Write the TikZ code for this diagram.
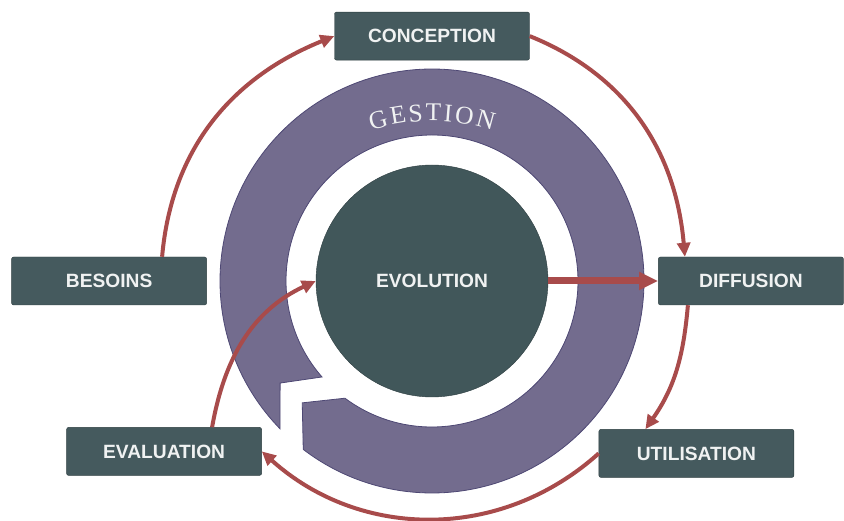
\documentclass[tikz,border=0pt]{standalone}
\usepackage{fontspec}
\setmainfont{Liberation Sans}
\newfontfamily\gestfont{Liberation Serif}
\usetikzlibrary{arrows.meta,positioning}

\definecolor{boxfill}{HTML}{455A5E}
\definecolor{circfill}{HTML}{41575A}
\definecolor{boxline}{HTML}{2E3E41}
\definecolor{boxtext}{HTML}{F0F2F2}
\definecolor{ringfill}{HTML}{736C8E}
\definecolor{ringline}{HTML}{4E4874}
\definecolor{arrred}{HTML}{A84B4B}

\begin{document}
\begin{tikzpicture}[
  x=1pt, y=1pt,
  font=\fontsize{19.2}{21}\selectfont\bfseries,
  box/.style={draw=boxline, fill=boxfill, rounded corners=2pt, text=boxtext, minimum width=195pt, minimum height=48pt, inner sep=0pt},
  arr/.style={-{Triangle[length=14pt, width=13pt]}, line width=4pt, draw=arrred},
  ring/.style={fill=ringfill, draw=ringline, line width=0.8pt},
  gestletter/.style={font=\gestfont\fontsize{25.5}{26}\selectfont, text=boxtext, inner sep=0pt, anchor=base}
]
\useasboundingbox (0,0) rectangle (844,520);
\node[circle, fill=circfill, draw=boxline, minimum size=232pt, text=boxtext] (evo) at (432,239) {EVOLUTION};
% ring with notched tail and pointed head
\path[ring] ([shift={(224.2:212)}]evo.center) arc[start angle=224.2, end angle=-127.4, radius=212]
  -- ([shift={(223.2:178)}]evo.center) -- ([shift={(-126.6:146)}]evo.center)
  arc[start angle=-126.6, end angle=221.1, radius=146]
  -- ([shift={(213.9:183)}]evo.center) -- cycle;
% GESTION, letter by letter on an arc
\coordinate (gestc) at ([yshift=-40pt]evo.center);
\foreach \ch/\a [count=\i] in {G/105.0, E/99.4, S/94.5, T/89.6, I/85.5, O/81.0, N/75.0}
  \node[gestletter, rotate=\a-90] (gest\i) at ([shift={(\a:200)}]gestc) {\ch};

\node[box, above=104.5pt of evo] (conc) {CONCEPTION};
\node[box, minimum width=185pt, right=110pt of evo] (diff) {DIFFUSION};
\node[box, left=109pt of evo] (bes) {BESOINS};
\node[box, below=122pt of bes, xshift=55pt] (eval) {EVALUATION};
\node[box, below=124pt of diff, xshift=-54.5pt] (util) {UTILISATION};

\draw[arr] ([xshift=53pt]bes.north) to[out=85, in=202] (conc.west);
\draw[arr] (conc.east) to[out=-22, in=95] ([xshift=-66pt]diff.north);
\draw[arr] ([xshift=-63pt]diff.south) to[out=265, in=55] ([xshift=-51pt]util.north);
\draw[arr] (util.west) to[out=222, in=318] (eval.east);
\draw[arr] ([xshift=48pt]eval.north) to[out=80, in=205] (evo.west);
\draw[arr, line width=7pt, -{Triangle[length=19pt, width=17pt]}] (evo.east) -- (diff.west);
\end{tikzpicture}
\end{document}
